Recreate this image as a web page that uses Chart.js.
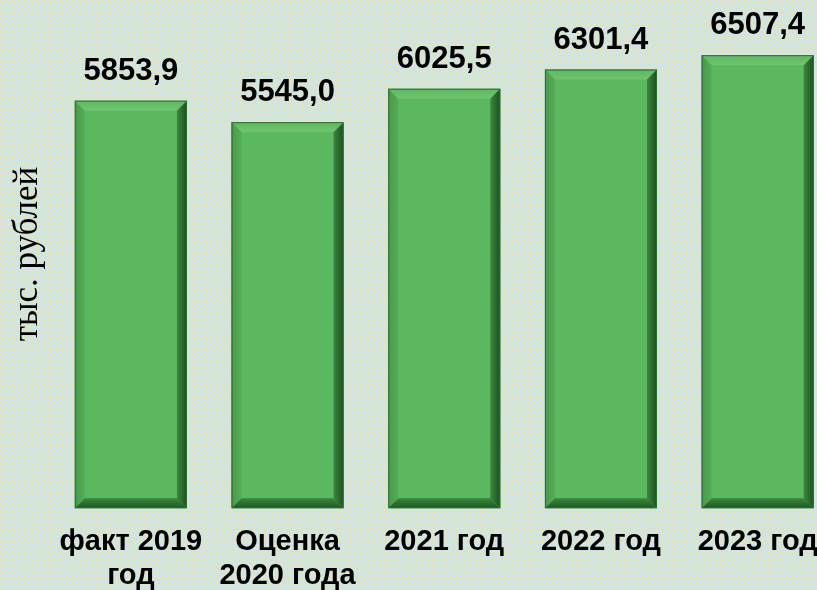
<!DOCTYPE html>
<html>
<head>
<meta charset="utf-8">
<script src="https://cdn.jsdelivr.net/npm/chart.js@4/dist/chart.umd.min.js"></script>
<style>
html,body{margin:0;padding:0;overflow:hidden;width:817px;height:590px;}
body{
  background-color:#cde5e4;
  background-image:
    radial-gradient(circle at 50% 50%, #f0e2a8 0, #f0e2a8 0.8px, rgba(240,226,168,0) 1.6px),
    radial-gradient(circle at 50% 50%, #f0e2a8 0, #f0e2a8 0.8px, rgba(240,226,168,0) 1.6px);
  background-size:6px 6px, 6px 6px;
  background-position:0 0, 3px 3px;
}
#wrap{position:absolute;left:0;top:0;width:836px;height:590px;}
</style>
</head>
<body>
<div id="wrap"><canvas id="c"></canvas></div>
<script>
const categories = [["факт 2019","год"],["Оценка","2020 года"],"2021 год","2022 год","2023 год"];
const values = [5853.9, 5545.0, 6025.5, 6301.4, 6507.4];
const valueLabels = ["5853,9","5545,0","6025,5","6301,4","6507,4"];
const axisTitle = "тыс. рублей";

const bevelPlugin = {
  id:'bevel',
  afterDatasetsDraw(chart){
    const ctx = chart.ctx;
    const meta = chart.getDatasetMeta(0);
    meta.data.forEach((bar,i)=>{
      const p = bar.getProps(['x','y','base','width'],true);
      const l = p.x - p.width/2, r = p.x + p.width/2, t = p.y, b = p.base;
      const d = 10;
      ctx.save();
      // top
      let g = ctx.createLinearGradient(0,t,0,t+d);
      g.addColorStop(0,'#5fb862');g.addColorStop(1,'#6fc470');
      ctx.fillStyle = g;
      ctx.beginPath();ctx.moveTo(l,t);ctx.lineTo(r,t);ctx.lineTo(r-d,t+d);ctx.lineTo(l+d,t+d);ctx.closePath();ctx.fill();
      // left
      g = ctx.createLinearGradient(l,0,l+d,0);
      g.addColorStop(0,'#47994a');g.addColorStop(1,'#55ad58');
      ctx.fillStyle = g;
      ctx.beginPath();ctx.moveTo(l,t);ctx.lineTo(l+d,t+d);ctx.lineTo(l+d,b-d);ctx.lineTo(l,b);ctx.closePath();ctx.fill();
      // right
      g = ctx.createLinearGradient(r-d,0,r,0);
      g.addColorStop(0,'#3c8740');g.addColorStop(1,'#1b4f1f');
      ctx.fillStyle = g;
      ctx.beginPath();ctx.moveTo(r,t);ctx.lineTo(r,b);ctx.lineTo(r-d,b-d);ctx.lineTo(r-d,t+d);ctx.closePath();ctx.fill();
      // bottom
      g = ctx.createLinearGradient(0,b-d,0,b);
      g.addColorStop(0,'#3a873e');g.addColorStop(1,'#1f5823');
      ctx.fillStyle = g;
      ctx.beginPath();ctx.moveTo(l,b);ctx.lineTo(l+d,b-d);ctx.lineTo(r-d,b-d);ctx.lineTo(r,b);ctx.closePath();ctx.fill();
      ctx.strokeStyle='#2e6b31';ctx.lineWidth=1;
      ctx.strokeRect(l+0.5,t+0.5,p.width-1,b-t-1);
      // label
      ctx.fillStyle='#000';
      ctx.font='bold 31px "Liberation Sans", Arial, sans-serif';
      ctx.textAlign='center';ctx.textBaseline='alphabetic';
      ctx.fillText(valueLabels[i], p.x, t-21);
      ctx.restore();
    });
  }
};

new Chart(document.getElementById('c'),{
  type:'bar',
  data:{labels:categories,datasets:[{data:values,backgroundColor:'#5cb85f',borderWidth:0,barPercentage:0.715,categoryPercentage:1}]},
  options:{
    responsive:true,maintainAspectRatio:false,animation:false,
    layout:{padding:{left:3,right:0,top:0,bottom:-20}},
    plugins:{legend:{display:false},tooltip:{enabled:false}},
    scales:{
      x:{grid:{display:false,drawTicks:false},border:{display:false},
         ticks:{color:'#000',padding:17,maxRotation:0,autoSkip:false,
                font:{family:'"Liberation Sans", Arial, sans-serif',size:29,weight:'bold',lineHeight:1.17}}},
      y:{min:0,max:7300,display:true,grid:{display:false,drawTicks:false},border:{display:false},
         ticks:{display:false},
         title:{display:true,text:axisTitle,color:'#000',padding:{top:6,bottom:5},
                font:{family:'"Liberation Serif", "Times New Roman", serif',size:35,weight:'normal',lineHeight:1.1}}}
    }
  },
  plugins:[bevelPlugin]
});
</script>
</body>
</html>
